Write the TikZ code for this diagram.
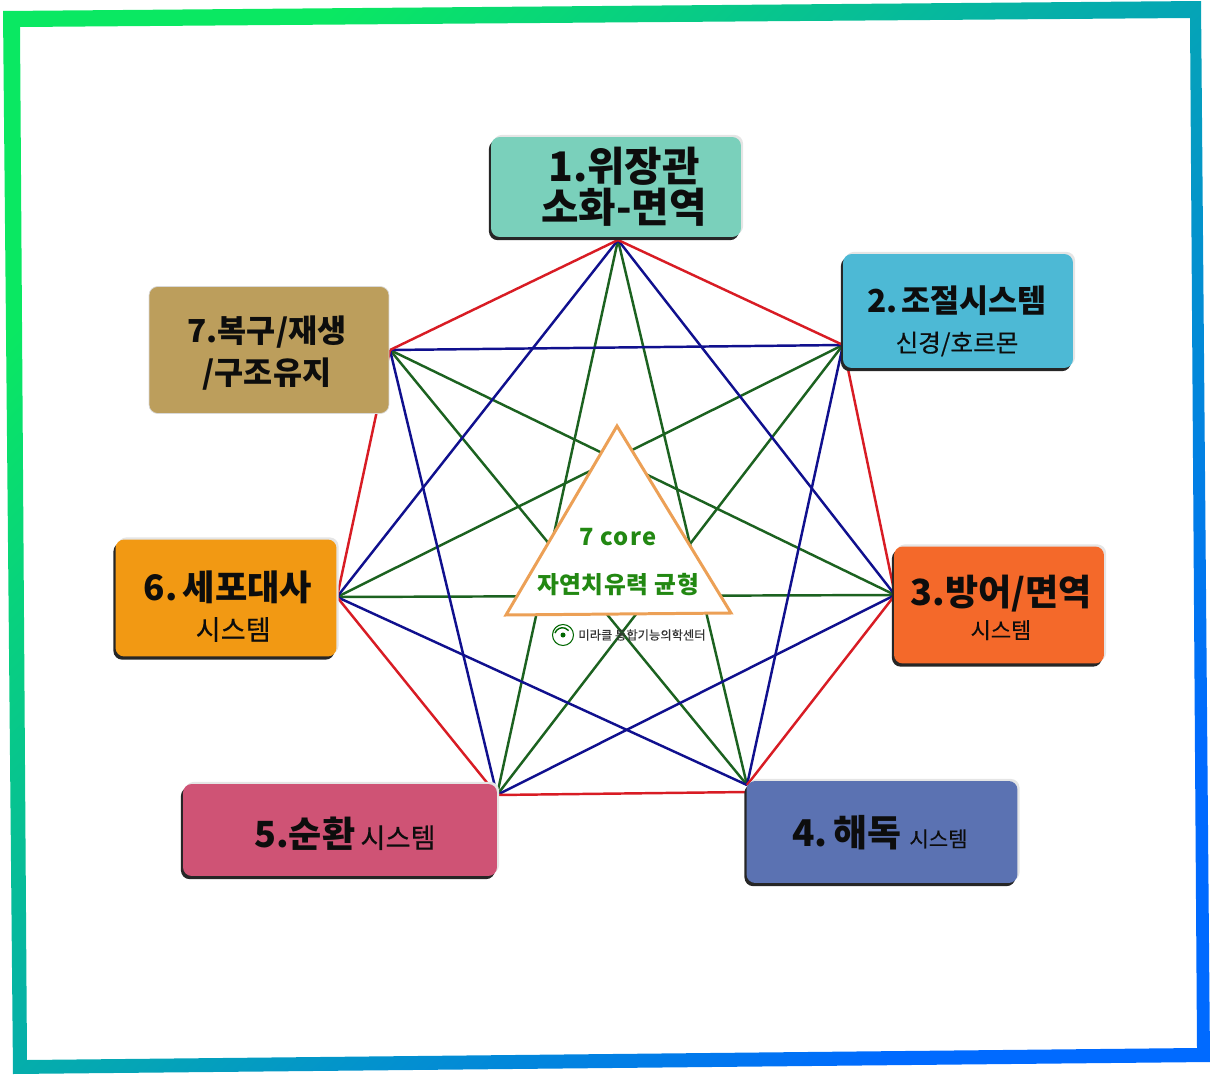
\documentclass[tikz,border=0pt]{standalone}
\usepackage{fontspec}
\setmainfont{Noto Sans CJK KR}
\newfontfamily\medfont[FakeBold=0.25]{Noto Sans CJK KR}
\usetikzlibrary{shadows,positioning}
\definecolor{framegreen}{RGB}{10,232,98}
\definecolor{frameblue}{RGB}{0,106,255}
\definecolor{edgered}{RGB}{216,28,36}
\definecolor{chordblue}{RGB}{16,16,142}
\definecolor{chordgreen}{RGB}{28,98,32}
\definecolor{coregreen}{RGB}{34,136,18}
\definecolor{coreorange}{RGB}{236,160,86}

\begin{document}
\begin{tikzpicture}[
    x=0.02cm, y=-0.02cm,
    sysbox/.style={rectangle, rounded corners=5pt, inner sep=0pt,
        general shadow={shadow xshift=1.2pt, shadow yshift=1.2pt, fill=white!90!black},
        general shadow={shadow xshift=-1.2pt, shadow yshift=-1.8pt, fill=black!85}},
    syslabel/.style={align=center, font=\bfseries, text=black!95, inner sep=0pt},
    edge/.style={edgered, line width=1.4pt},
    chordb/.style={chordblue, line width=1.4pt},
    chordg/.style={chordgreen, line width=1.4pt},
    corelabel/.style={text=coregreen, font=\bfseries\fontsize{13.5}{15}\selectfont\addfontfeatures{LetterSpace=2.5}, inner sep=0pt}
]
\useasboundingbox (0,0) rectangle (1211,1075);

% Frame
\shade[even odd rule, left color=framegreen, right color=frameblue, shading angle=45]
    (3,11) -- (1201,1) -- (1210,1062) -- (13,1074) -- cycle
    (20,27) -- (1190,18) -- (1197,1048) -- (27,1060) -- cycle;

% Corners of the heptagon
\coordinate (v1) at (618,240);
\coordinate (v2) at (843,345);
\coordinate (v3) at (895,595);
\coordinate (v4) at (747,785);
\coordinate (v5) at (497,795);
\coordinate (v6) at (337,597);
\coordinate (v7) at (390,350);
\coordinate (v4low) at (747,792);

% Green chords
\draw[chordg] (v1) -- (v4);
\draw[chordg] (v1) -- (v5);
\draw[chordg] (v2) -- (v5);
\draw[chordg] (v2) -- (v6);
\draw[chordg] (v3) -- (v6);
\draw[chordg] (v3) -- (v7);
\draw[chordg] (v4) -- (v7);

% Blue chords
\draw[chordb] (v1) -- (v3);
\draw[chordb] (v1) -- (v6);
\draw[chordb] (v2) -- (v4);
\draw[chordb] (v2) -- (v7);
\draw[chordb] (v3) -- (v5);
\draw[chordb] (v4) -- (v6);
\draw[chordb] (v5) -- (v7);

% Red edges
\draw[edge] (v1) -- (v2);
\draw[edge] (v2) -- (v3);
\draw[edge] (v3) -- (v4);
\draw[edge] (v4low) -- (v5);
\draw[edge] (v5) -- (v6);
\draw[edge] (v6) -- (v7);
\draw[edge] (v7) -- (v1);

% Systems
\node (sys1) [sysbox, fill={rgb,255:red,122;green,208;blue,187}, minimum width=5.0cm, minimum height=2.0cm] at (616,187) {};
\node (txt1) [syslabel, font=\bfseries\fontsize{23.2}{23.2}\selectfont] at (624,187) {1.위장관\\소화-면역};

\node (sys2) [sysbox, fill={rgb,255:red,77;green,185;blue,213}, minimum width=4.6cm, minimum height=2.28cm] at (958,311) {};
\node (txt2a) [syslabel, font=\bfseries\fontsize{18}{22}\selectfont] at (957,301) {2.\kern2pt 조절시스템};
\node (txt2b) [syslabel, font=\medfont\fontsize{14}{16}\selectfont, below=0.3cm of txt2a] {신경/호르몬};

\node (sys3) [sysbox, fill={rgb,255:red,244;green,105;blue,42}, minimum width=4.2cm, minimum height=2.34cm] at (999,605) {};
\node (txt3a) [syslabel, font=\bfseries\fontsize{20.5}{23}\selectfont] at (1001,594) {3.방어/면역};
\node (txt3b) [syslabel, font=\medfont\fontsize{12.5}{14}\selectfont, below=0.14cm of txt3a] {시스템};

\node (sys4) [sysbox, fill={rgb,255:red,91;green,114;blue,178}, minimum width=5.42cm, minimum height=2.04cm] at (882,832) {};
\node (txt4) [syslabel, font=\bfseries\fontsize{21}{24}\selectfont] at (880,833) {4.\kern3pt 해독 {\medfont\mdseries\fontsize{12}{15}\selectfont 시스템}};

\node (sys5) [sysbox, fill={rgb,255:red,207;green,83;blue,117}, minimum width=6.28cm, minimum height=1.84cm] at (340,830) {};
\node (txt5) [syslabel, font=\bfseries\fontsize{20.5}{24}\selectfont] at (345,834) {5.순환\kern3pt {\medfont\mdseries\fontsize{15.5}{16}\selectfont 시스템}};

\node (sys6) [sysbox, fill={rgb,255:red,242;green,153;blue,19}, minimum width=4.42cm, minimum height=2.34cm] at (226,598) {};
\node (txt6a) [syslabel, font=\bfseries\fontsize{20}{23}\selectfont] at (228,587) {6.\kern3pt 세포대사};
\node (txt6b) [syslabel, font=\medfont\fontsize{15.5}{16}\selectfont, below=0.26cm of txt6a, xshift=3] {시스템};

\node (sys7) [rectangle, rounded corners=5pt, inner sep=0pt, draw=black!15, fill={rgb,255:red,188;green,158;blue,92}, minimum width=4.8cm, minimum height=2.54cm] at (269,350) {};
\node (txt7) [syslabel, font=\bfseries\fontsize{18}{23.5}\selectfont] at (267,353) {7.복구/재생\\/구조유지};

% Core triangle
\coordinate (top) at (617,426);
\coordinate (left) at (506,615);
\coordinate (right) at (731,613);
\draw[coreorange, line width=1.7pt, fill=white] (top) -- (left) -- (right) -- cycle;
\node (core) [corelabel] at (618,537) {\addfontfeatures{LetterSpace=6}7 core};
\node (balance) [corelabel] at (618,585) {자연치유력 균형};

% Logo
\node (logo) [circle, draw=green!40!black, fill=white, minimum width=0.42cm, inner sep=0pt, line width=0.6pt] at (563,635) {};
\draw[green!40!black, line width=0.8pt] (logo.west) ++(3,-2) arc[start angle=200, end angle=320, radius=8];
\fill[green!40!black] (logo.center) circle[radius=2.5];
\node (logotxt) [right=0.08cm of logo, inner sep=0pt, text=black!80, font=\medfont\fontsize{7}{9}\selectfont] {미라클 통합기능의학센터};

\end{tikzpicture}
\end{document}
